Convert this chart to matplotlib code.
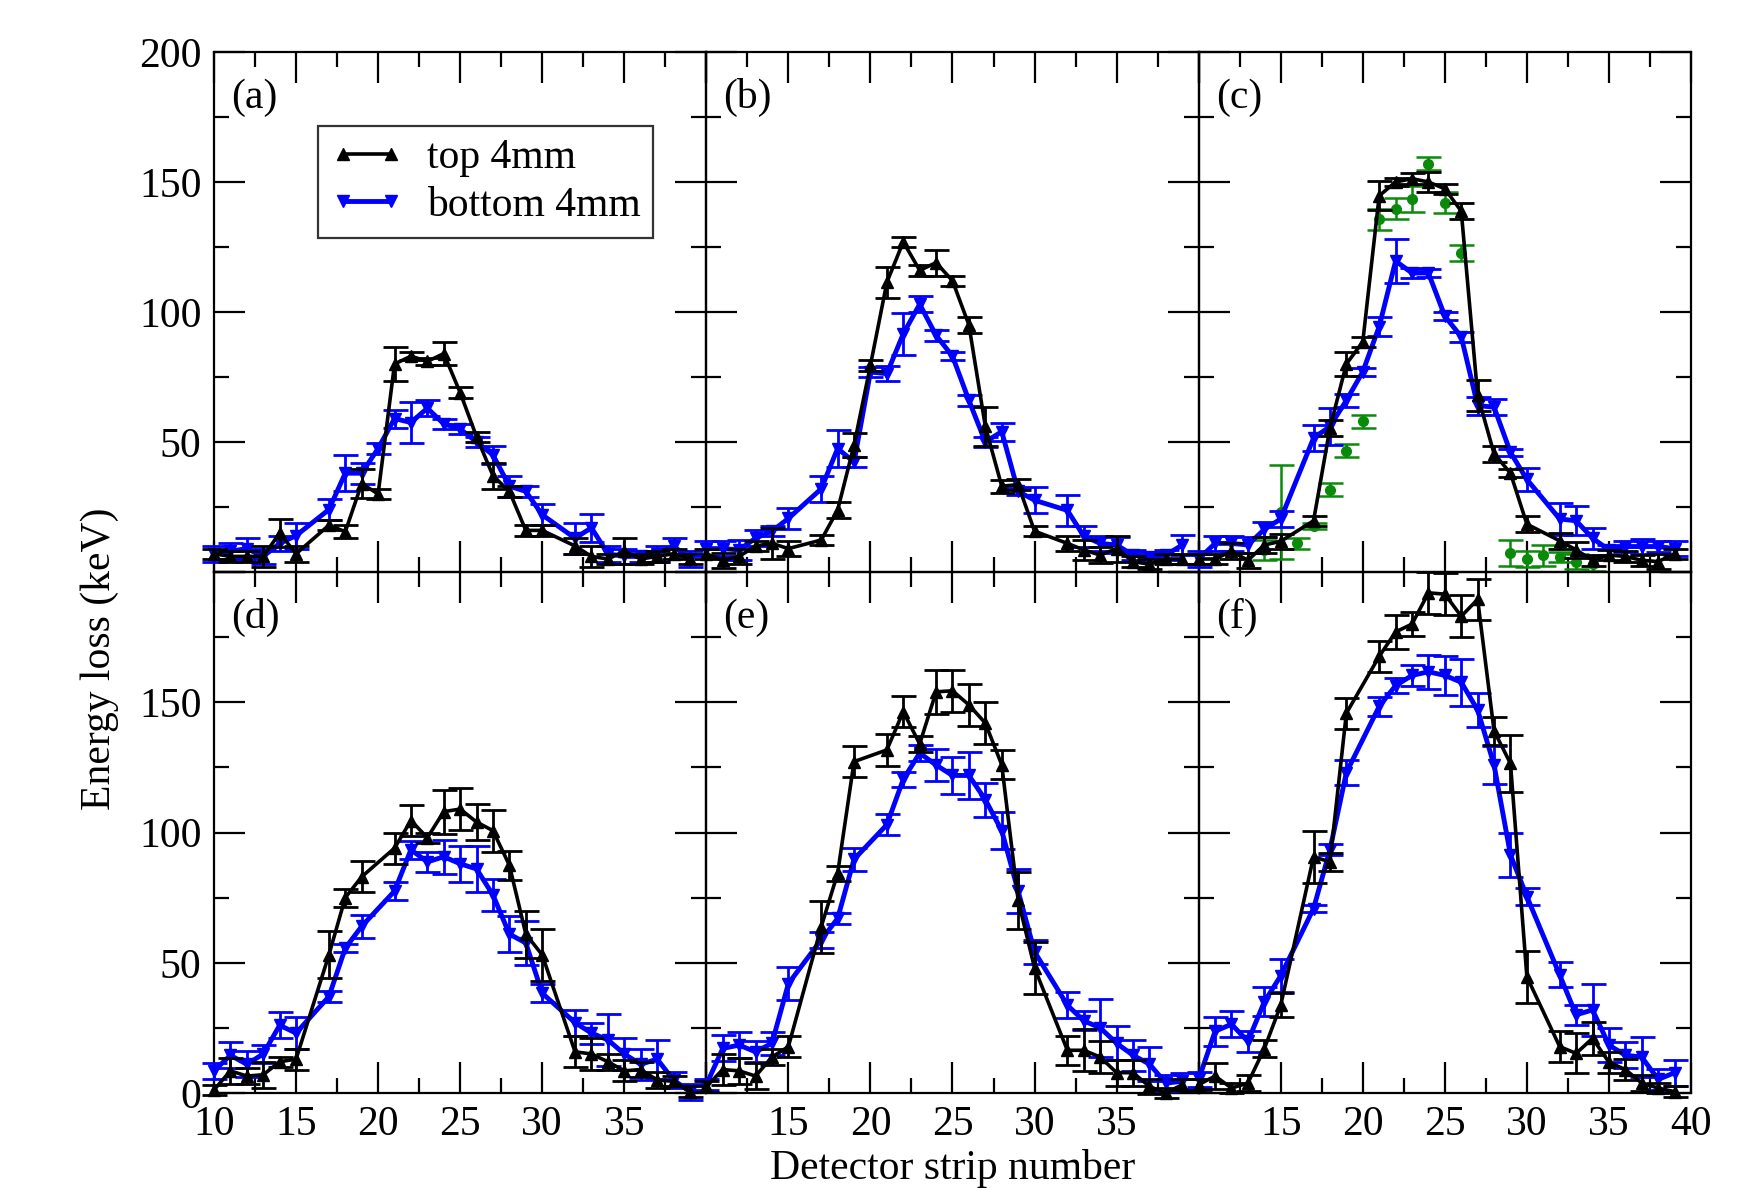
import numpy as np
import matplotlib
matplotlib.use("Agg")
import matplotlib.pyplot as plt
from matplotlib.lines import Line2D
from matplotlib.ticker import MultipleLocator

plt.rcParams['font.family'] = ['Liberation Serif', 'DejaVu Serif']
plt.rcParams['font.size'] = 30

# strips read (16 and 31 are missing, 20 is missing in the lower row)
strips_top = [10, 11, 12, 13, 14, 15, 17, 18, 19, 20, 21, 22, 23, 24, 25, 26, 27, 28, 29, 30,
              32, 33, 34, 35, 36, 37, 38, 39]
strips_bot = [10, 11, 12, 13, 14, 15, 17, 18, 19, 21, 22, 23, 24, 25, 26, 27, 28, 29, 30,
              32, 33, 34, 35, 36, 37, 38, 39]

# (a)
a_top = [7, 6, 6, 6, 15, 7, 18, 15.5, 34, 30, 80, 83, 81, 84, 69, 52, 37, 31, 16, 16,
         10, 6, 5, 8, 5, 6, 7, 5]
a_top_err = [2, 2, 2, 4, 5.5, 3, 2, 2.5, 5.5, 2, 6.5, 1.5, 1.5, 4.5, 2, 2, 5, 2, 2, 2,
             3, 4, 2, 5, 2, 2, 2, 2]
a_bot = [7, 8, 9, 6, 11, 14, 24, 38, 38, 47.5, 59, 57.5, 63, 57, 55, 50, 45, 33, 31, 22,
         13, 17, 7, 6, 6, 7, 10, 5]
a_bot_err = [3, 3, 4, 3, 3, 5, 4, 7, 4, 2, 3.5, 8, 3, 2, 2, 2, 3.5, 4, 2, 4,
             6, 5.5, 3, 3, 2, 3, 3, 3]

# (b)
b_top = [7, 4.5, 6, 10, 11, 9, 12.3, 23.8, 48.8, 79.5, 111.4, 127, 116, 119, 112, 95, 56, 33, 33.6, 15.7,
         11, 8.5, 6.5, 9, 4, 3, 5, 5]
b_top_err = [2, 3, 3, 2, 6, 3, 2, 3, 4.5, 2, 6, 2, 2, 5, 2, 3, 7.5, 2.5, 2, 2,
             3, 4, 3, 5, 2, 2, 2, 2]
b_bot = [9, 9, 8.5, 13, 15.7, 20.6, 32, 47.5, 42.3, 76.9, 76.3, 91.6, 103, 91, 83, 66, 50, 54, 31, 27.6,
         23.7, 13.8, 11, 10.4, 6.5, 5.8, 6.5, 10.4]
b_bot_err = [3, 3, 4, 3, 2, 4, 5, 7, 2, 2, 3, 8, 3, 2, 1.5, 2, 2, 3.5, 1.5, 5,
             6, 4, 3, 3, 2, 2, 2, 4]

# (c)
c_top = [5, 5, 8, 4.5, 10.4, 11.8, 19.7, 55.4, 80, 88.5, 144.7, 150, 151.3, 150, 147.4, 138.8, 68, 45.5, 38, 18.4,
         12, 8.5, 4.5, 6.5, 6, 4.5, 4, 7]
c_top_err = [2, 2, 3, 3, 3, 3, 2, 3, 4.5, 2, 5.5, 1.5, 2, 4, 2, 3, 6, 3, 1.5, 3,
             3, 3, 2, 2, 2, 2, 3, 2]
c_bot = [5, 11, 11, 10.4, 16.4, 20.4, 51.5, 56, 66, 77, 94.4, 119.6, 115, 115, 98.4, 90.5, 64, 63.4, 46, 35.6,
         20.4, 19.7, 13, 8.5, 9.8, 9.8, 9.8, 9]
c_bot_err = [3, 3, 3, 3, 3, 3, 5, 7, 2.5, 1.5, 3.5, 8.5, 2, 1.5, 1.5, 2, 3.5, 3, 1.5, 4.5,
             6, 5.5, 4, 2, 2, 3, 2, 3]
c_green_x = [14, 15, 16, 17, 18, 19, 20, 21, 22, 23, 24, 25, 26, 29, 30, 31, 32, 33, 34]
c_green = [8.5, 23, 11, 17.7, 31.6, 46.6, 58, 135.7, 139.7, 143.4, 157, 142, 122.6,
           7.4, 5, 6.5, 5.8, 4, 3.2]
c_green_err = [4, 18, 2, 1, 2.5, 2.5, 2.5, 4, 4, 5, 2.5, 4, 3, 5, 3, 4, 2, 3, 3]

# (d)
d_top = [1.2, 8.5, 6.5, 7, 12, 13, 53, 75, 83, 94, 104.6, 98, 108, 109, 104, 100.7, 87.4, 61, 53,
         15.8, 15, 12, 8.5, 9, 5, 4.5, 0.5]
d_top_err = [2, 5, 3, 5, 2, 4, 9, 3.5, 6, 6, 6, 2, 8.5, 8, 7, 8, 5.5, 9, 10,
             6, 6, 3, 4, 3, 3, 2, 2]
d_bot = [8.5, 14.5, 11, 15, 26, 23, 37, 55.6, 64, 77.5, 93.4, 88.7, 90.7, 88, 86, 76, 61, 57.6, 38.3,
         27, 23, 20.4, 15, 11, 13, 5, 0.5]
d_bot_err = [3, 5, 5, 3.5, 5, 6, 2, 1.5, 4.5, 3.5, 3.5, 4, 6.5, 7, 9, 6, 7, 8.5, 3.5,
             5, 4, 10, 6, 6, 7.5, 3, 3]

# (e)
e_top = [2.5, 9, 8.5, 6.5, 13.8, 17.8, 63.8, 84.3, 127.2, 131.7, 146.4, 134, 154, 154.4, 149, 142, 126, 74, 48,
         16.4, 16.4, 13.8, 7.8, 7.8, 2.5, 0, 3.2]
e_top_err = [2, 6, 5, 5, 3, 4, 10, 3, 6, 6, 6, 3, 8.5, 8, 8, 8, 5.5, 11, 10,
             5.5, 8, 6, 5, 5, 3, 2, 2]
e_bot = [3.2, 17.1, 18.4, 15.8, 19.1, 42, 58.8, 67, 89.7, 103, 120.4, 130.5, 125.9, 121.9, 121.9, 112.6, 100.7, 77.5, 54.2,
         33.7, 27.7, 25, 19.1, 14.5, 11.1, 3.8, 4.5]
e_bot_err = [2, 5, 5, 4, 4.5, 6.3, 3, 2, 4.5, 4, 3, 3, 6, 7, 9, 6.5, 7, 8.5, 4.5,
             5, 3.6, 11, 6.6, 6, 6.5, 3, 3]

# (f)
f_top = [3.2, 6.5, 1.9, 3.8, 17, 33.7, 90.7, 88.7, 145.8, 167.6, 177, 180, 192, 191.5, 183, 189.5, 139, 126.5, 44.6,
         17.8, 15.2, 21, 11.8, 9, 3.8, 1.9, 0.5]
f_top_err = [2, 5, 2, 3, 3.3, 4.6, 10, 3.5, 6, 6, 6.5, 4.5, 8, 8, 8, 8, 5.5, 11, 10,
             6, 7.7, 6.4, 4, 4, 3, 2, 2]
f_bot = [5.2, 23.7, 26.4, 19.8, 35, 45, 70.8, 93.4, 123, 148.4, 156.4, 160.3, 161.7, 160.3, 157.7, 147, 125.9, 91.4, 75.4,
         45.3, 30, 31.9, 18.4, 14.5, 13.8, 5.2, 7.8]
f_bot_err = [3, 5.5, 5, 4, 5.5, 6.3, 1.5, 2, 4.8, 3.8, 3, 4, 6.6, 7.4, 9, 6.4, 7.3, 8.3, 3.2,
             4.8, 3.8, 10, 6.5, 5, 7.6, 4, 5]

panels = [
    ("(a)", strips_top, a_top, a_top_err, a_bot, a_bot_err),
    ("(b)", strips_top, b_top, b_top_err, b_bot, b_bot_err),
    ("(c)", strips_top, c_top, c_top_err, c_bot, c_bot_err),
    ("(d)", strips_bot, d_top, d_top_err, d_bot, d_bot_err),
    ("(e)", strips_bot, e_top, e_top_err, e_bot, e_bot_err),
    ("(f)", strips_bot, f_top, f_top_err, f_bot, f_bot_err),
]

W, H = 1748, 1189
fig = plt.figure(figsize=(W / 100, H / 100), dpi=100)

left, right = 214, 1691
top, mid, bottom = 52, 572, 1093
pw = (right - left) / 3


def noclip(cont):
    line, caps, bars = cont.lines
    line.set_clip_on(False)
    for c in caps:
        c.set_clip_on(False)
    for b in bars:
        b.set_clip_on(False)


axes = []
for i, (lab, xs, yt, et, yb, eb) in enumerate(panels):
    row, col = divmod(i, 3)
    x0 = left + col * pw
    if row == 0:
        y0, y1 = top, mid
    else:
        y0, y1 = mid, bottom
    ax = fig.add_axes([x0 / W, 1 - y1 / H, pw / W, (y1 - y0) / H])
    ax.set_facecolor('none')
    axes.append(ax)

    cb = ax.errorbar(xs, yb, yerr=eb, color='blue', marker='v', ms=9, lw=3.5,
                     elinewidth=2.0, capsize=9, capthick=2.0, zorder=3)
    noclip(cb)
    ct = ax.errorbar(xs, yt, yerr=et, color='black', marker='^', ms=9, lw=2.6,
                     elinewidth=2.0, capsize=9, capthick=2.0, zorder=4)
    noclip(ct)
    if lab == "(c)":
        cg = ax.errorbar(c_green_x, c_green, yerr=c_green_err, color='#0a8a0a', marker='o',
                         ms=7, ls='none', elinewidth=1.8, capsize=9, capthick=1.8, zorder=2)
        noclip(cg)

    ax.set_xlim(10, 40)
    ax.set_ylim(0, 200)
    ax.xaxis.set_major_locator(MultipleLocator(5))
    ax.xaxis.set_minor_locator(MultipleLocator(2.5))
    ax.yaxis.set_major_locator(MultipleLocator(50))
    ax.yaxis.set_minor_locator(MultipleLocator(25))
    ax.tick_params(which='both', direction='in', top=True, right=True, width=1.6,
                   labelsize=30, pad=9)
    ax.tick_params(which='major', length=22)
    ax.tick_params(which='minor', length=11)
    for s in ax.spines.values():
        s.set_linewidth(1.6)

    ax.set_xticks([10, 15, 20, 25, 30, 35, 40])
    if row == 0:
        ax.set_xticklabels([])
    elif col == 0:
        ax.set_xticklabels(['10', '15', '20', '25', '30', '35', ''])
    elif col == 1:
        ax.set_xticklabels(['', '15', '20', '25', '30', '35', ''])
    else:
        ax.set_xticklabels(['', '15', '20', '25', '30', '35', '40'])

    ax.set_yticks([0, 50, 100, 150, 200])
    if col != 0:
        ax.set_yticklabels([])
    elif row == 0:
        ax.set_yticklabels(['', '50', '100', '150', '200'])
    else:
        ax.set_yticklabels(['0', '50', '100', '150', ''])

    ax.text(0.035, 0.912, lab, transform=ax.transAxes, fontsize=30,
            ha='left', va='center')

handles = [Line2D([], [], color='black', marker='^', ms=9, lw=2.6),
           Line2D([], [], color='blue', marker='v', ms=9, lw=3.5)]
leg = axes[0].legend(handles, ['top 4mm', 'bottom 4mm'], loc='upper left',
                     bbox_to_anchor=(0.212, 0.857), numpoints=2, handlelength=1.75,
                     fontsize=30, frameon=True, fancybox=False, borderpad=0.3,
                     labelspacing=0.22, handletextpad=0.55, borderaxespad=0)
leg.get_frame().set_edgecolor('black')
leg.get_frame().set_linewidth(1.6)

fig.text(100 / W, 1 - 659 / H, 'Energy loss (keV)', rotation=90, ha='center',
         va='center', fontsize=30)
fig.text(953 / W, 1 - 1168 / H, 'Detector strip number', ha='center', va='center',
         fontsize=30)

fig.savefig('out.png', dpi=100)
